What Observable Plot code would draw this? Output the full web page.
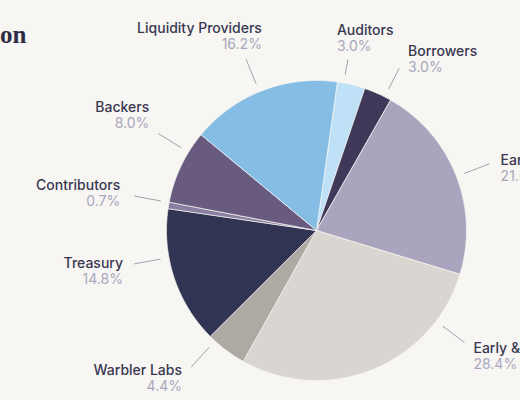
<!DOCTYPE html>
<html><head><meta charset="utf-8">
<script src="https://cdn.jsdelivr.net/npm/d3@7"></script>
<script src="https://cdn.jsdelivr.net/npm/@observablehq/plot@0.6"></script>
<style>
html,body{margin:0;padding:0;background:#f7f6f3;overflow:hidden;}
</style></head><body><div id="chart"></div>
<script>
// ---- data ----
const title = "Token Distribution";
const categories = ["Auditors","Borrowers","Early Supporters","Early & Core Team","Warbler Labs","Treasury","Contributors","Backers","Liquidity Providers"];
const shares = [3.0, 3.0, 21.5, 28.4, 4.4, 14.8, 0.7, 8.0, 16.2];
const palette = ["#bfe1f7","#3f3859","#aba4be","#d9d6d1","#aea9a3","#313452","#8a7ea2","#685b7f","#85bde5"];

// ---- layout config ----
const W = 520, H = 400, cx = 316, cy = 230, k = 150; // px per pie-radius unit
const bg = "#f7f6f3";
const startDeg = 8;
const leaderNudge = [-3, 2.8, 0.6, -31, 5.4, 7.9, 1.1, 6.2, -1.2];
const leaderOuter = [1.16, 1.213, 1.237, 1.237, 1.237, 1.237, 1.237, 1.237, 1.237];
const leaderInner = 1.057;
const labelOffset = [[-11,-29,"start"],[9,-17,"start"],[11,-3,"start"],[9,6,"start"],[-9,3,"end"],[-11,0,"end"],[-14,-10,"end"],[-9,-26,"end"],[16,-30,"end"]];

const rows = categories.map((c, i) => ({name: c, share: shares[i], i}));
const s0 = startDeg * Math.PI / 180;
const arcs = d3.pie().sort(null).value(d => d.share).startAngle(s0).endAngle(s0 + 2 * Math.PI)(rows);

const polys = arcs.flatMap(a => {
  const n = Math.max(2, Math.ceil((a.endAngle - a.startAngle) / (Math.PI / 360)));
  const pts = [{name: a.data.name, x: 0, y: 0}];
  for (let j = 0; j <= n; j++) {
    const t = a.startAngle + (a.endAngle - a.startAngle) * j / n;
    pts.push({name: a.data.name, x: Math.sin(t), y: Math.cos(t)});
  }
  pts.push({name: a.data.name, x: 0, y: 0});
  return pts;
});

const leaders = arcs.map(a => {
  const i = a.data.i;
  const t = (a.startAngle + a.endAngle) / 2 + leaderNudge[i] * Math.PI / 180;
  const ro = leaderOuter[i];
  const ex = ro * Math.sin(t), ey = ro * Math.cos(t);
  const [dx, dy, anchor] = labelOffset[i];
  return {
    name: a.data.name, pct: d3.format(".1f")(a.data.share) + "%",
    x1: leaderInner * Math.sin(t), y1: leaderInner * Math.cos(t), x2: ex, y2: ey,
    lx: ex + dx / k, ly: ey - dy / k, py: ey - (dy + 16) / k, anchor
  };
});

const nameStyle = {fontFamily: "Inter", fontSize: 14, fontWeight: 500, fill: "#3a3850"};
const pctStyle = {fontFamily: "Inter", fontSize: 14, fontWeight: 400, fill: "#aaa6bd"};

const labelMarks = ["start", "end"].flatMap(anchor => {
  const d = leaders.filter(l => l.anchor === anchor);
  return [
    Plot.text(d, {x: "lx", y: "ly", text: "name", textAnchor: anchor, ...nameStyle}),
    Plot.text(d, {x: "lx", y: "py", text: "pct", textAnchor: anchor, ...pctStyle})
  ];
});

const chart = Plot.plot({
  width: W, height: H, margin: 0,
  style: {background: bg, overflow: "visible"},
  x: {domain: [-cx / k, (W - cx) / k], axis: null},
  y: {domain: [-(H - cy) / k, cy / k], axis: null},
  color: {domain: categories, range: palette},
  marks: [
    Plot.line(polys, {x: "x", y: "y", z: "name", fill: "name", stroke: bg, strokeWidth: 0.7, curve: "linear"}),
    Plot.link(leaders, {x1: "x1", y1: "y1", x2: "x2", y2: "y2", stroke: "#a3a1ad", strokeWidth: 1}),
    ...labelMarks,
    Plot.text([title], {frameAnchor: "top-left", dx: 26, dy: 25, textAnchor: "end", fontFamily: "Liberation Serif", fontWeight: 700, fontSize: 25, fill: "#2e2c44"})
  ]
});
document.getElementById("chart").appendChild(chart);
</script>
</body></html>
